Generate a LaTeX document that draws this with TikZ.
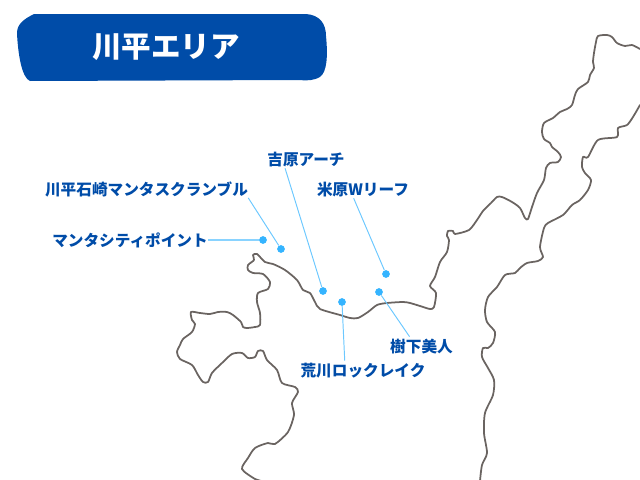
\documentclass[tikz,border=0pt]{standalone}
\usepackage{fontspec}
\setmainfont{Noto Sans CJK JP}
\definecolor{navy}{HTML}{004CA8}
\definecolor{spotblue}{HTML}{35B4FF}
\definecolor{leadblue}{HTML}{6CC8FF}
\definecolor{coast}{HTML}{6A6461}
\tikzset{
  shore/.style={draw=coast,line width=1pt,line join=round,line cap=round},
  spot/.style={circle,fill=spotblue,inner sep=0pt,minimum size=4.4pt},
  lead/.style={draw=leadblue,line width=0.55pt},
  place/.style={text=navy,font=\bfseries\fontsize{8.9}{10}\selectfont,inner xsep=0pt,inner ysep=0.6pt,text height=0.8em,text depth=0.1em}
}
\begin{document}
\begin{tikzpicture}[x=0.02cm,y=-0.02cm]

\useasboundingbox (0,0) rectangle (640,480);

%
%COAST
%

%upper coast, top right round the bay and down to the bottom edge
\draw[shore] plot[smooth,tension=0.45] coordinates {(640,49) (632,45) (625,46) (617,43) (612,37) (607,35) (598,36) (596,42) (594,53) (593,62) (594,68) (590,75) (588,82) (578,89) (575,95) (572,105) (567,109) (560,112) (553,118) (544,123) (542,132) (544,139) (550,143) (552,147) (558,152) (561,157) (558,162) (550,163) (546,168) (544,180) (537,193) (532,207) (528,219) (525,218) (520,208) (512,202) (502,197) (497,197) (491,203) (483,211) (477,220) (469,230) (455,234) (453,231) (448,231) (447,236) (449,240) (447,252) (440,262) (435,277) (430,286) (436,293) (434,307) (430,309) (420,306) (410,303) (403,302) (387,303) (377,305) (368,312) (358,318) (350,318) (340,315) (320,309) (315,302) (310,293) (303,290) (297,280) (285,270) (273,264) (265,262) (257,254) (253,255) (254,260) (248,265) (248,270) (253,273) (263,274) (270,282) (268,289) (258,293) (257,302) (260,313) (260,325) (255,327) (247,328) (243,327) (241,322) (233,315) (227,312) (218,312) (210,314) (200,313) (191,312) (192,320) (195,324) (192,332) (183,339) (180,345) (177,352) (180,359) (192,365) (198,375) (203,382) (208,382) (212,373) (222,363) (232,354) (242,353) (248,358) (255,357) (258,351) (263,351) (267,360) (277,370) (282,383) (295,387) (298,392) (292,403) (294,415) (288,432) (275,444) (268,443) (255,448) (248,458) (242,469) (255,479) (262,481)};

%lower coast, right edge down to the bottom edge
\draw[shore] plot[smooth,tension=0.45] coordinates {(640,105) (633,117) (627,125) (618,128) (617,137) (598,140) (588,157) (583,157) (582,167) (585,173) (591,180) (588,190) (580,200) (572,205) (563,215) (548,223) (544,228) (540,247) (543,257) (538,261) (527,263) (520,268) (515,273) (505,275) (497,287) (488,297) (485,310) (487,322) (495,332) (493,343) (488,348) (483,348) (482,357) (488,368) (494,380) (493,395) (485,413) (484,433) (487,453) (482,465) (480,481)};

%
%TITLE
%

\fill[navy] (17,33) .. controls (17,24) and (24,19) .. (34,14) -- (306,14) .. controls (320,15) and (326,24) .. (326,36) .. controls (328,56) and (327,72) .. (320,77) .. controls (315,80) and (308,81) .. (300,80) -- (30,81) .. controls (22,78) and (18,55) .. (17,33) -- cycle; %title plate
\node[text=white,font=\bfseries\fontsize{16.8}{20}\selectfont,inner sep=0pt] (title) at (166,47) {川平エリア};

%
%PLACES
%

\foreach \n/\p in {spotkawa/{(281,249)},spotmanta/{(263,240)},spotyoshi/{(323,291)},spotyone/{(386,274)},spotkige/{(379,292)},spotara/{(342,302)}} \node[spot] (\n) at \p {}; %dots

\node[place] (kawa) at (146.5,189) {川平石崎マンタスクランブル};
\node[place] (manta) at (130,240) {マンタシティポイント};
\node[place] (yoshi) at (306,159) {吉原アーチ};
\node[place] (yone) at (363,189) {米原Wリーフ};
\node[place] (kige) at (421.5,346) {樹下美人};
\node[place] (ara) at (363,370) {荒川ロックレイク};

\draw[lead] (kawa.355) -- (spotkawa);
\draw[lead,line width=1pt,leadblue!80] (manta.east) -- (spotmanta); %thicker one
\draw[lead] (yoshi.204) -- (spotyoshi);
\draw[lead] (yone.225) -- (spotyone);
\draw[lead] (kige.142) -- (spotkige);
\draw[lead] (ara.153) -- (spotara);

\end{tikzpicture}
\end{document}
